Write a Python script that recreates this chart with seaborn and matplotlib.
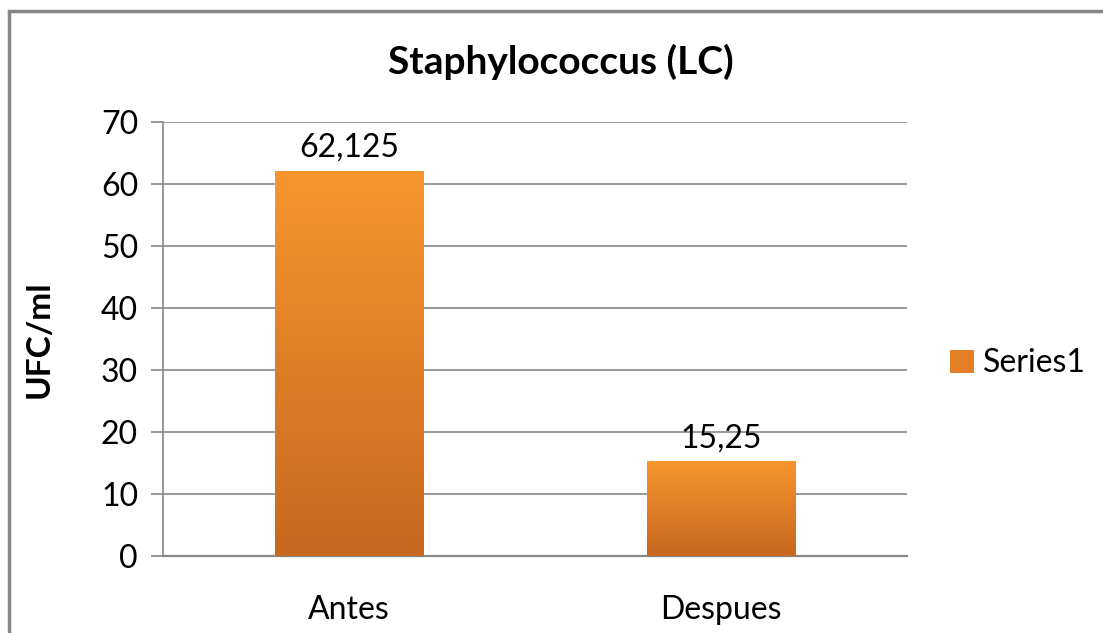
import numpy as np
import pandas as pd
import matplotlib
matplotlib.use('Agg')
import matplotlib.pyplot as plt
import seaborn as sns
from matplotlib.colors import LinearSegmentedColormap
from matplotlib.patches import Rectangle

##Chart data
categories = ['Antes', 'Despues']
values = [62.125, 15.25]
value_labels = ['62,125', '15,25']
series_name = 'Series1'
y_ticks = [0, 10, 20, 30, 40, 50, 60, 70]

df = pd.DataFrame({'Momento': categories, 'UFC': values})

sns.set_theme(style='white')
plt.rcParams['font.family'] = ['Lato', 'DejaVu Sans']
plt.rcParams['text.color'] = 'black'
plt.rcParams['xtick.color'] = 'black'
plt.rcParams['ytick.color'] = 'black'
plt.rcParams['axes.labelcolor'] = 'black'

fig = plt.figure(figsize=(11.03, 6.33), dpi=100)
ax = fig.add_axes([0.1478, 0.1216, 0.8223 - 0.1478, 0.8073 - 0.1216])

top_col = '#F8952F'
bot_col = '#C8671E'
sns.barplot(data=df, x='Momento', y='UFC', color=top_col, width=0.4,
            saturation=1, ax=ax, zorder=3)

##Gradient fill clipped to each bar
cmap = LinearSegmentedColormap.from_list('grad', [bot_col, top_col])
grad = np.linspace(0, 1, 256).reshape(-1, 1)
for bar in ax.patches:
    x0, y0 = bar.get_x(), bar.get_y()
    w, h = bar.get_width(), bar.get_height()
    im = ax.imshow(grad, cmap=cmap, aspect='auto', origin='lower',
                   extent=[x0, x0 + w, y0, y0 + h], zorder=4)
    im.set_clip_path(bar)
    bar.set_edgecolor('none')

ax.set_xlim(-0.5, 1.5)
ax.set_ylim(0, 70)
ax.set_yticks(y_ticks)
ax.yaxis.grid(True, color='#878787', linewidth=1.2, zorder=0)
ax.set_axisbelow(True)
for s in ['top', 'right']:
    ax.spines[s].set_visible(False)
ax.spines['left'].set_color('#878787')
ax.spines['bottom'].set_color('#878787')
ax.spines['left'].set_linewidth(1.2)
ax.spines['bottom'].set_linewidth(1.6)
ax.tick_params(axis='y', left=True, length=9, width=1.2, color='#878787',
               labelcolor='black', labelsize=23, pad=9)
ax.tick_params(axis='x', bottom=False, labelcolor='black', labelsize=23, pad=22)
ax.set_xlabel('')
ax.set_ylabel('UFC/ml', fontsize=24, fontweight='bold')
ax.yaxis.set_label_coords(-0.147, 0.5)

for i, (v, lab) in enumerate(zip(values, value_labels)):
    ax.annotate(lab, (i, v), xytext=(0, 6), textcoords='offset points',
                ha='center', va='bottom', fontsize=23, zorder=5)

fig.text(0.5086, 0.902, 'Staphylococcus (LC)', ha='center', va='center',
         fontsize=28, fontweight='bold')

##Legend
handle = Rectangle((0, 0), 1, 1, facecolor='#E57F26', edgecolor='none')
fig.legend([handle], [series_name], loc='center left',
           bbox_to_anchor=(0.861, 0.426), frameon=False, fontsize=23,
           handlelength=0.75, handleheight=0.75, handletextpad=0.3,
           borderaxespad=0, borderpad=0)

##Chart border (left and top only visible)
fig.patches.append(Rectangle((9 / 1103, -0.1), 1.2, 1 - 11 / 633 + 0.1,
                             transform=fig.transFigure, fill=False,
                             edgecolor='#878787', linewidth=2.5, zorder=10))

fig.savefig('out.png', dpi=100)
